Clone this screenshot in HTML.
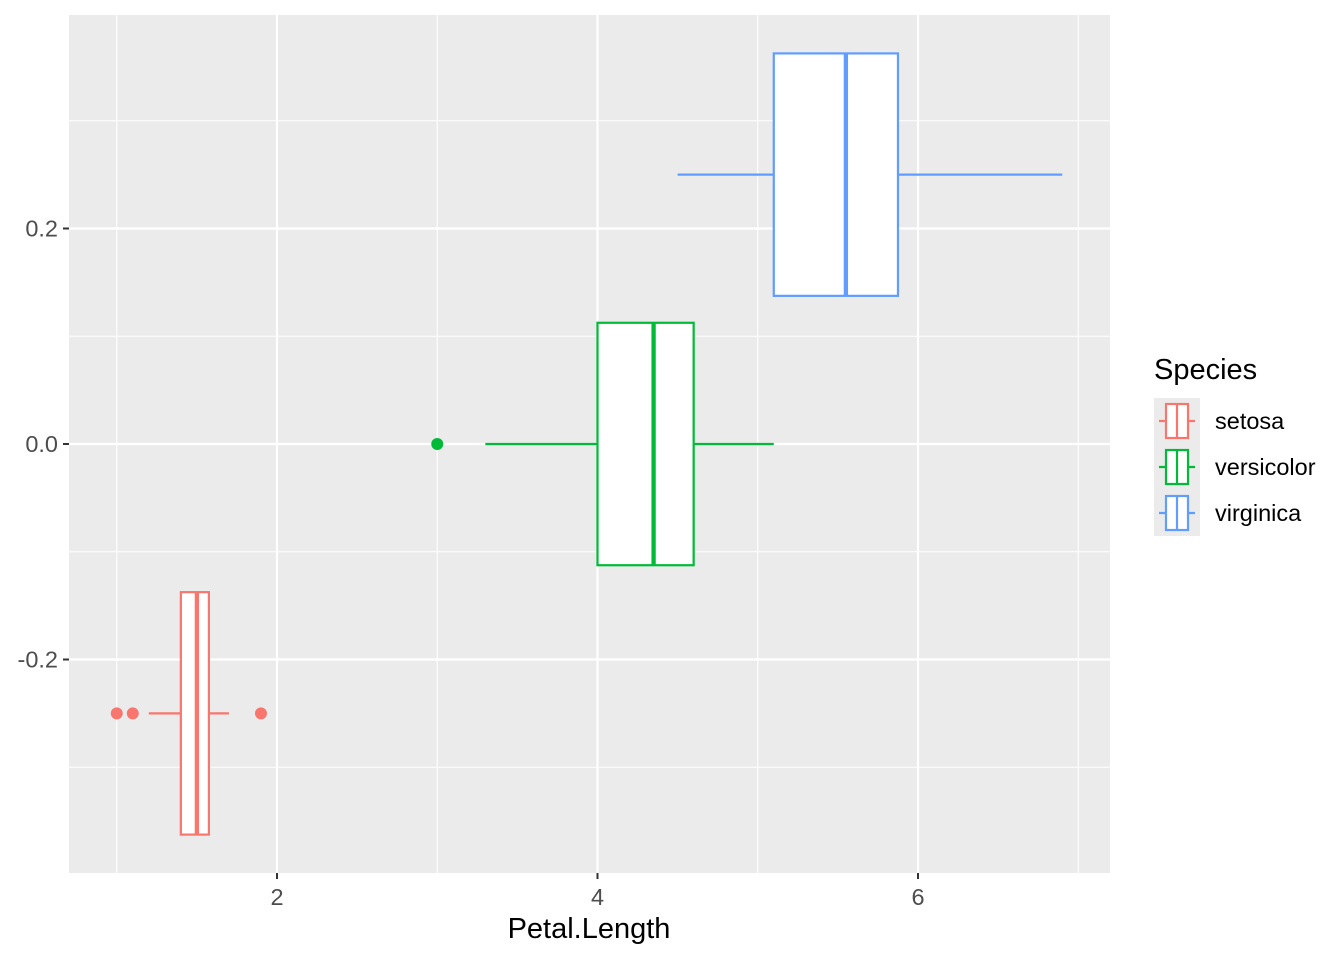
<!DOCTYPE html>
<html><head><meta charset="utf-8"><style>
body{margin:0;background:#fff;font-family:"Liberation Sans",sans-serif}
</style></head><body>
<svg id="chart" width="1344" height="960" xmlns="http://www.w3.org/2000/svg" font-family="Liberation Sans, sans-serif">
<rect x="0" y="0" width="1344" height="960" fill="#fff"/>
<rect x="69" y="15" width="1041" height="858" fill="#ebebeb"/>
<g id="grid"></g>
<g id="boxes"></g>
<g id="axes"></g>
<text x="589" y="938" font-size="29" text-anchor="middle" fill="#000">Petal.Length</text>
<g id="legend">
<text x="1154" y="379" font-size="29" fill="#000">Species</text>
</g>
</svg>
<script>
const species = ["setosa","versicolor","virginica"];
const colors = ["#F8766D","#00BA38","#619CFF"];
const yPos = [-0.25, 0, 0.25];
const q1 = [1.4, 4.0, 5.1];
const medians = [1.5, 4.35, 5.55];
const q3 = [1.575, 4.6, 5.875];
const whiskLo = [1.2, 3.3, 4.5];
const whiskHi = [1.7, 5.1, 6.9];
const outliers = [[1.0, 1.1, 1.9], [3.0], []];
const xTicks = [2, 4, 6];
const xMinor = [1, 3, 5, 7];
const yTicks = [-0.2, 0.0, 0.2];
const yTickLabels = ["-0.2", "0.0", "0.2"];
const yMinor = [-0.3, -0.1, 0.1, 0.3];

const NS = "http://www.w3.org/2000/svg";
const X = v => 277 + (v - 2) * 160.25;
const Y = v => 444 - v * 1077.5;
const halfH = 0.1125;
function mk(tag, attrs, parent){const e=document.createElementNS(NS,tag);for(const k in attrs)e.setAttribute(k,attrs[k]);parent.appendChild(e);return e;}
const grid=document.getElementById('grid'), boxes=document.getElementById('boxes'), axes=document.getElementById('axes'), legend=document.getElementById('legend');

xMinor.forEach(v=>{const l=mk('line',{x1:X(v),x2:X(v),y1:15,y2:873,stroke:'#fff','stroke-width':1.1},grid);

});
yMinor.forEach(v=>{const l=mk('line',{x1:69,x2:1110,y1:Y(v),y2:Y(v),stroke:'#fff','stroke-width':1.1},grid);

});
xTicks.forEach(v=>{const l=mk('line',{x1:X(v),x2:X(v),y1:15,y2:873,stroke:'#fff','stroke-width':2.2},grid);


const t=mk('line',{x1:X(v),x2:X(v),y1:873,y2:879,stroke:'#333','stroke-width':2},axes);


const tx=mk('text',{x:X(v),y:905,'font-size':23.5,'text-anchor':'middle',fill:'#4d4d4d'},axes);tx.textContent=v;

});
yTicks.forEach((v,i)=>{const l=mk('line',{x1:69,x2:1110,y1:Y(v),y2:Y(v),stroke:'#fff','stroke-width':2.2},grid);


const t=mk('line',{x1:63,x2:69,y1:Y(v),y2:Y(v),stroke:'#333','stroke-width':2},axes);


const tx=mk('text',{x:58,y:Y(v)+8,'font-size':23.5,'text-anchor':'end',fill:'#4d4d4d'},axes);tx.textContent=yTickLabels[i];

});

species.forEach((s,i)=>{
 const g=mk('g',{},boxes);
 
 
 const c=colors[i], yc=Y(yPos[i]), yt=Y(yPos[i]+halfH), yb=Y(yPos[i]-halfH);
 mk('line',{x1:X(whiskLo[i]),x2:X(q1[i]),y1:yc,y2:yc,stroke:c,'stroke-width':2.2},g);
 mk('line',{x1:X(q3[i]),x2:X(whiskHi[i]),y1:yc,y2:yc,stroke:c,'stroke-width':2.2},g);
 mk('rect',{x:X(q1[i]),y:yt,width:X(q3[i])-X(q1[i]),height:yb-yt,fill:'#fff',stroke:c,'stroke-width':2.2},g);
 mk('line',{x1:X(medians[i]),x2:X(medians[i]),y1:yt,y2:yb,stroke:c,'stroke-width':4.3},g);
 outliers[i].forEach(o=>{const p=mk('circle',{cx:X(o),cy:yc,r:6,fill:c},g);
 
 });
 const ky=398+i*46;
 const k=mk('g',{},legend);
 
 
 mk('rect',{x:1154,y:ky,width:46,height:46,fill:'#ebebeb'},k);
 mk('line',{x1:1159,x2:1195,y1:ky+23,y2:ky+23,stroke:c,'stroke-width':2.2},k);
 mk('rect',{x:1166,y:ky+6,width:22,height:34,fill:'#fff',stroke:c,'stroke-width':2.2},k);
 mk('line',{x1:1177,x2:1177,y1:ky+6,y2:ky+40,stroke:c,'stroke-width':2.2},k);
 const t=mk('text',{x:1215,y:ky+31,'font-size':23.5,fill:'#000'},k);t.textContent=s;
});
</script>
</body></html>
